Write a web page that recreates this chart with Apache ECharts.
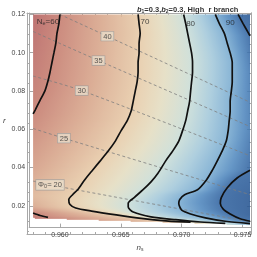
<!DOCTYPE html>
<html><head><meta charset="utf-8">
<script src="https://cdn.jsdelivr.net/npm/echarts@6/dist/echarts.min.js"></script>
<style>html,body{margin:0;padding:0;background:#fff}#c{width:257px;height:257px}</style>
</head><body><div id="c"></div>
<script>
// ---------- data ----------
const xTicks = [0.960, 0.965, 0.970, 0.975];
const xMinorTicks = [0.958,0.959,0.961,0.962,0.963,0.964,0.966,0.967,0.968,0.969,0.971,0.972,0.973,0.974];
const yTicks = [0.02, 0.04, 0.06, 0.08, 0.10, 0.12];
const yMinorTicks = [0.01,0.015,0.025,0.03,0.035,0.045,0.05,0.055,0.065,0.07,0.075,0.085,0.09,0.095,0.105,0.11,0.115];

// N contours: [n_s, r]
const contour60a = [[0.96000,0.1200],[0.95992,0.1152],[0.95976,0.1101],[0.95967,0.1050],[0.95951,0.0999],[0.95935,0.0949],[0.95919,0.0898],[0.95902,0.0852],[0.95878,0.0802],[0.95837,0.0751],[0.95797,0.0700],[0.95780,0.0680]];
const contour60b = [[0.95780,0.0162],[0.95837,0.0149],[0.95902,0.0139]];
const contour70 = [[0.96642,0.1200],[0.96650,0.1152],[0.96659,0.1101],[0.96650,0.1050],[0.96650,0.0999],[0.96642,0.0949],[0.96642,0.0898],[0.96634,0.0847],[0.96618,0.0797],[0.96602,0.0746],[0.96585,0.0695],[0.96553,0.0645],[0.96504,0.0594],[0.96455,0.0538],[0.96398,0.0487],[0.96333,0.0436],[0.96268,0.0386],[0.96203,0.0335],[0.96146,0.0284],[0.96106,0.0259],[0.96073,0.0233],[0.96081,0.0208],[0.96130,0.0188],[0.96260,0.0172],[0.96463,0.0152],[0.96667,0.0134],[0.96870,0.0121],[0.97073,0.0114]];
const contour80 = [[0.97016,0.1200],[0.97033,0.1152],[0.97049,0.1101],[0.97065,0.1050],[0.97081,0.0999],[0.97089,0.0949],[0.97089,0.0898],[0.97081,0.0847],[0.97073,0.0797],[0.97065,0.0746],[0.97049,0.0695],[0.97033,0.0645],[0.97008,0.0594],[0.96976,0.0538],[0.96927,0.0487],[0.96870,0.0436],[0.96805,0.0370],[0.96748,0.0325],[0.96683,0.0284],[0.96610,0.0243],[0.96561,0.0213],[0.96561,0.0193],[0.96602,0.0167],[0.96748,0.0142],[0.96951,0.0127],[0.97154,0.0115],[0.97358,0.0108]];
const contour90 = [[0.97276,0.1200],[0.97309,0.1152],[0.97350,0.1101],[0.97374,0.1050],[0.97398,0.0999],[0.97415,0.0949],[0.97415,0.0898],[0.97415,0.0847],[0.97407,0.0797],[0.97398,0.0746],[0.97398,0.0695],[0.97390,0.0645],[0.97382,0.0594],[0.97366,0.0538],[0.97333,0.0487],[0.97293,0.0436],[0.97252,0.0386],[0.97203,0.0335],[0.97130,0.0284],[0.97024,0.0258],[0.96984,0.0233],[0.96976,0.0213],[0.97000,0.0177],[0.97073,0.0157],[0.97195,0.0137],[0.97358,0.0119],[0.97561,0.0107]];
const contour100a = [[0.97463,0.1200],[0.97504,0.1152],[0.97545,0.1106],[0.97561,0.1088]];
const contour100b = [[0.97561,0.0385],[0.97455,0.0345],[0.97374,0.0294],[0.97325,0.0243],[0.97317,0.0213],[0.97341,0.0182],[0.97398,0.0157],[0.97480,0.0132],[0.97561,0.0119]];
const contourLevels = [60, 60, 70, 80, 90, 100, 100];
const contourLines = [contour60a, contour60b, contour70, contour80, contour90, contour100a, contour100b];

// N values along the edges of the plotted region (r -> N)
const leftEdgeN = [[0.1200,55],[0.0680,60],[0.0400,64],[0.0250,67],[0.0195,65],[0.0162,60],[0.01365,57]];
const rightEdgeN = [[0.1200,103],[0.1088,100],[0.0900,97],[0.0600,97],[0.0385,100],[0.0250,104],[0.0150,104],[0.0119,100],[0.0107,90],[0.0101,86]];
// lower boundary of the region (n_s, r) and N along it
const bottomBoundary = [[0.957805,0.01365],[0.97561,0.0101]];
const boundaryN = [[0.95780,57],[0.95902,60],[0.96870,68],[0.97073,70],[0.97358,80],[0.97561,88]];
const regionNs = [0.957805, 0.97561];
const regionTopR = 0.12;

// Phi0 dashed contours
const phi40 = [[0.96000,0.1200],[0.96390,0.1086],[0.97561,0.0741]];
const phi35 = [[0.95780,0.1111],[0.96317,0.0959],[0.97561,0.0614]];
const phi30 = [[0.95780,0.0878],[0.96179,0.0802],[0.97561,0.0461]];
const phi25 = [[0.95780,0.0604],[0.96033,0.0553],[0.97561,0.0258]];
const phi20 = [[0.95780,0.0329],[0.95919,0.0309],[0.97561,0.0116]];
const phiLines = [phi40, phi35, phi30, phi25, phi20];
const phiLabelText = ['40','35','30','25','{a|Φ}{s|0}{a|= 20}'];
const phiLabelPos = [[0.96390,0.1086],[0.96317,0.0959],[0.96179,0.0802],[0.96033,0.0553],[0.95919,0.0309]];

const nLabelText = ['{a|N}{s|e}{a|=60}','70','80','90'];
const nLabelPos = [[0.95902,0.1162],[0.96699,0.1162],[0.97073,0.1152],[0.97398,0.1157]];

// ---------- styling ----------
const colorScale = [[52,[168,79,85]],[55,[179,94,94]],[60,[196,122,108]],[65,[214,162,135]],[70,[230,201,166]],[75,[227,220,192]],[80,[200,220,214]],[85,[163,200,218]],[90,[119,170,208]],[95,[78,134,189]],[100,[48,98,159]],[106,[33,79,140]]];
function colorOf(N){
  if (N <= colorScale[0][0]) return 'rgb('+colorScale[0][1].join(',')+')';
  for (let i=1;i<colorScale.length;i++){
    if (N <= colorScale[i][0]){
      const [n0,c0]=colorScale[i-1],[n1,c1]=colorScale[i];
      const t=(N-n0)/(n1-n0);
      return 'rgb('+c0.map((v,k)=>Math.round(v+(c1[k]-v)*t)).join(',')+')';
    }
  }
  return 'rgb('+colorScale[colorScale.length-1][1].join(',')+')';
}
function interp(arr, v){
  for (let i=1;i<arr.length;i++){
    const [a0,b0]=arr[i-1],[a1,b1]=arr[i];
    if ((v-a0)*(v-a1)<=0){ const t=(a1===a0)?0:(v-a0)/(a1-a0); return b0+(b1-b0)*t; }
  }
  const first=arr[0], last=arr[arr.length-1];
  return Math.abs(v-first[0])<Math.abs(v-last[0])?first[1]:last[1];
}
function crossings(r){
  const out=[];
  contourLines.forEach((pts,ci)=>{
    for (let i=0;i<pts.length-1;i++){
      const [x1,y1]=pts[i],[x2,y2]=pts[i+1];
      if (y1===y2) continue;
      const lo=Math.min(y1,y2), hi=Math.max(y1,y2);
      if (r>lo && r<=hi){ const t=(r-y1)/(y2-y1); out.push([x1+t*(x2-x1), contourLevels[ci]]); }
    }
  });
  return out.sort((a,b)=>a[0]-b[0]);
}

const xMin=0.95748, xMax=0.97569, yMin=0.00858, yMax=0.12076;
const frameColor='#a8a8a8', labelColor='#444';
const FONT='Liberation Sans, Arial, sans-serif';

function axisX(pos, grid, ticks, len, withLabels){
  return {type:'value', gridIndex:grid, position:pos, min:xMin, max:xMax,
    axisLine:{show:true,onZero:false,lineStyle:{color:frameColor,width:1}},
    splitLine:{show:false},
    axisTick:{show:true,inside:true,length:len,customValues:ticks,lineStyle:{color:frameColor,width:1}},
    axisLabel: withLabels?{show:true,customValues:xTicks,formatter:v=>v.toFixed(3),fontSize:7,color:labelColor,margin:4,fontFamily:FONT}:{show:false},
    name: withLabels?'{i|n}{s|s}':'', nameLocation:'middle', nameGap:12,
    nameTextStyle:{rich:{i:{fontSize:8,fontStyle:'italic',color:labelColor,fontFamily:FONT},s:{fontSize:5,color:labelColor,padding:[4,0,0,0],fontFamily:FONT}}}
  };
}
function axisY(pos, grid, ticks, len, withLabels){
  return {type:'value', gridIndex:grid, position:pos, min:yMin, max:yMax,
    axisLine:{show:true,onZero:false,lineStyle:{color:frameColor,width:1}},
    splitLine:{show:false},
    axisTick:{show:true,inside:true,length:len,customValues:ticks,lineStyle:{color:frameColor,width:1}},
    axisLabel: withLabels?{show:true,customValues:yTicks,formatter:v=>v.toFixed(2),fontSize:7,color:labelColor,margin:4,fontFamily:FONT}:{show:false},
    name: withLabels?'r':'', nameLocation:'middle', nameGap:18, nameRotate:0,
    nameTextStyle:{fontSize:8,fontStyle:'italic',color:labelColor,fontFamily:FONT}
  };
}

const series = [];
series.push({
  type:'custom', xAxisIndex:0, yAxisIndex:0, z:1, silent:true, clip:false,
  data:[[regionNs[0], regionTopR]],
  renderItem:function(params, api){
    const bL=bottomBoundary[0], bR=bottomBoundary[1];
    const rBot=Math.min(bL[1],bR[1]);
    const p0=api.coord([regionNs[0], regionTopR]);
    const p1=api.coord([regionNs[1], rBot]);
    const toPx = x => p0[0]+(x-regionNs[0])/(regionNs[1]-regionNs[0])*(p1[0]-p0[0]);
    const children=[];
    for (let py=p0[1]; py<p1[1]; py+=1){
      const h=Math.min(1,p1[1]-py);
      const r=regionTopR+((py+h/2)-p0[1])/(p1[1]-p0[1])*(rBot-regionTopR);
      let xs=regionNs[0], startN=interp(leftEdgeN, r);
      if (r < bL[1]){
        const f=(bL[1]-r)/(bL[1]-bR[1]);
        xs=bL[0]+f*(bR[0]-bL[0]);
        startN=interp(boundaryN, xs);
      }
      const xe=regionNs[1];
      const pts=[[xs,startN]];
      crossings(r).forEach(c=>{ if(c[0]>xs && c[0]<xe) pts.push(c); });
      pts.push([xe, interp(rightEdgeN, r)]);
      const off=x=>Math.max(0,Math.min(1,(x-xs)/(xe-xs)));
      const stops=[];
      for (let i=0;i<pts.length;i++){
        if (i>0){
          const [xa,Na]=pts[i-1],[xb,Nb]=pts[i];
          for (let k=1;k<4;k++){ const t=k/4; stops.push({offset:off(xa+(xb-xa)*t), color:colorOf(Na+(Nb-Na)*t)}); }
        }
        stops.push({offset:off(pts[i][0]), color:colorOf(pts[i][1])});
      }
      const X0=toPx(xs), X1=toPx(xe);
      children.push({type:'rect', shape:{x:X0,y:py,width:X1-X0,height:h+0.4},
        style:{fill:new echarts.graphic.LinearGradient(0,0,1,0,stops)}});
    }
    return {type:'group', children};
  }
});
phiLines.forEach(d=>series.push({type:'line', xAxisIndex:0, yAxisIndex:0, data:d, z:3, silent:true, showSymbol:false, smooth:0.3,
  lineStyle:{color:'#7d7d7d', width:0.8, type:[3,2.5]}}));
contourLines.forEach(d=>series.push({type:'line', xAxisIndex:0, yAxisIndex:0, data:d, z:4, silent:true, showSymbol:false, smooth:0.25,
  lineStyle:{color:'#111', width:1.7}}));
series.push({type:'scatter', xAxisIndex:0, yAxisIndex:0, z:6, silent:true, symbolSize:0,
  data:phiLabelPos.map((p,i)=>({value:p, label:{formatter:phiLabelText[i]}})),
  label:{show:true, position:'inside', fontSize:7.5, color:'#333', fontFamily:FONT,
    backgroundColor:'rgba(238,228,210,0.85)', borderColor:'#9a9a9a', borderWidth:0.6, padding:[1,2,0,2],
    rich:{a:{fontSize:7.5,color:'#333',fontFamily:FONT}, s:{fontSize:5.5,color:'#333',padding:[3,0,0,0],fontFamily:FONT}}}});
series.push({type:'scatter', xAxisIndex:0, yAxisIndex:0, z:6, silent:true, symbolSize:0,
  data:nLabelPos.map((p,i)=>({value:p, label:{formatter:nLabelText[i]}})),
  label:{show:true, position:'inside', fontSize:8, color:'#222', fontFamily:FONT,
    rich:{a:{fontSize:8,color:'#222',fontFamily:FONT}, s:{fontSize:5.5,color:'#222',padding:[3,0,0,0],fontFamily:FONT}}}});

const chart = echarts.init(document.getElementById('c'), null, {renderer:'canvas'});
chart.setOption({
  animation:false,
  backgroundColor:'#fff',
  title:{text:'{i|b}{s|1}{n|=0.3,}{i|b}{s|2}{n|=0.3, High  r branch}', left:132, top:1,
    textStyle:{rich:{
      i:{fontSize:7.5,fontStyle:'italic',color:'#333',fontFamily:FONT},
      n:{fontSize:7.5,color:'#333',fontFamily:FONT},
      s:{fontSize:5,color:'#333',padding:[3,0,0,0],fontFamily:FONT}}}},
  grid:[{left:27,right:6,top:13,bottom:23},{left:27,right:6,top:13,bottom:23}],
  xAxis:[axisX('bottom',0,xTicks,4,true), axisX('top',0,xTicks,4,false), axisX('bottom',1,xMinorTicks,2,false), axisX('top',1,xMinorTicks,2,false)],
  yAxis:[axisY('left',0,yTicks,4,true), axisY('right',0,yTicks,4,false), axisY('left',1,yMinorTicks,2,false), axisY('right',1,yMinorTicks,2,false)],
  series
});
</script></body></html>
